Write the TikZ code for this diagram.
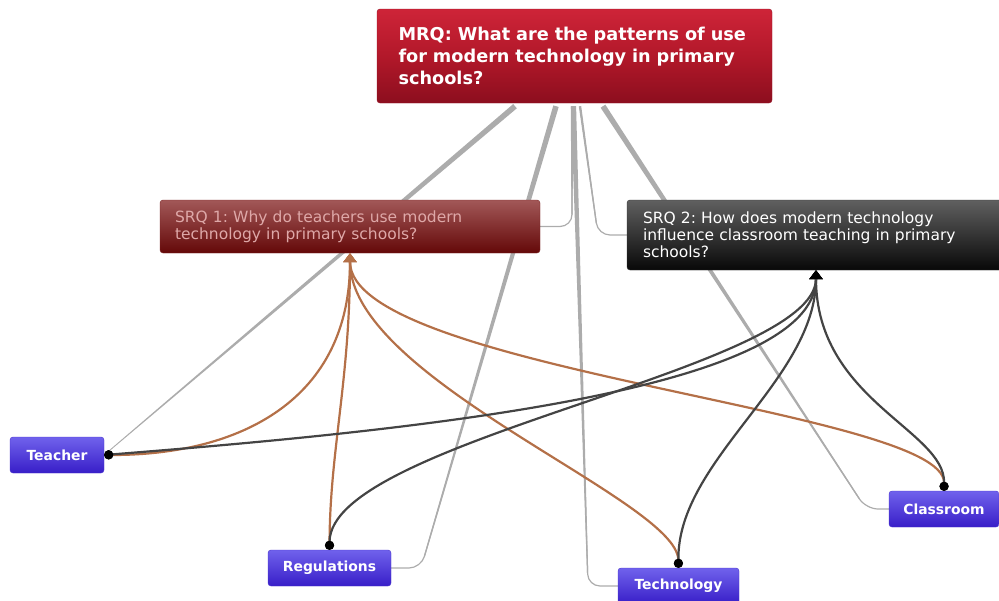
\documentclass[tikz,border=0pt]{standalone}
\usepackage{fontspec}
\setmainfont{DejaVu Sans}
\frenchspacing
\usetikzlibrary{arrows.meta,calc,positioning,backgrounds}

\definecolor{mrqtop}{RGB}{206,36,56}
\definecolor{mrqmid}{RGB}{178,24,42}
\definecolor{mrqbot}{RGB}{140,14,30}
\definecolor{mrqedge}{RGB}{150,20,38}
\definecolor{srqatop}{RGB}{162,88,88}
\definecolor{srqabot}{RGB}{100,8,8}
\definecolor{srqaedge}{RGB}{125,40,40}
\definecolor{srqatext}{RGB}{222,168,168}
\definecolor{srqbtop}{RGB}{96,96,96}
\definecolor{srqbbot}{RGB}{8,8,8}
\definecolor{leaftop}{RGB}{112,98,236}
\definecolor{leafbot}{RGB}{56,30,200}
\definecolor{leafedge}{RGB}{72,50,205}
\definecolor{linegray}{RGB}{172,172,172}
\definecolor{brownline}{RGB}{180,112,72}
\definecolor{darkline}{RGB}{68,68,68}

\tikzset{
  mrqbox/.style={draw=mrqedge, rounded corners=3pt, top color=mrqtop,
    bottom color=mrqbot, middle color=mrqmid, text=white,
    font=\bfseries\fontsize{17.7}{22}\selectfont, align=left,
    text width=352pt, inner xsep=21.5pt, minimum height=94pt},
  srqbox/.style={rounded corners=3pt, align=left, text width=350pt,
    inner xsep=15pt, font=\fontsize{15.5}{17}\selectfont},
  leafbox/.style={draw=leafedge, rounded corners=3pt, top color=leaftop,
    bottom color=leafbot, text=white, inner sep=0pt, minimum height=36pt,
    font=\bfseries\fontsize{13.9}{15}\selectfont},
  brownlink/.style={draw=brownline, line width=2.2pt,
    {Circle[length=9pt,color=black]}-{Triangle[length=9pt,width=13pt]}},
  darklink/.style={draw=darkline, line width=2.2pt,
    {Circle[length=9pt,color=black]}-{Triangle[length=9pt,width=13pt,color=black]}},
  graylink/.style={draw=linegray, line width=1.2pt, rounded corners=12pt}
}

\begin{document}
\begin{tikzpicture}[x=1pt,y=-1pt]
\useasboundingbox (0,0) rectangle (999,600);

% question boxes
\node[mrqbox] (mrq) at (574.5,56) {MRQ: What are the patterns of use\\for modern technology in primary\\schools?};
\node[srqbox, draw=srqaedge, top color=srqatop, bottom color=srqabot, text=srqatext,
  minimum width=380pt, minimum height=53pt] (srq1) at (350,226.5)
  {SRQ 1: Why do teachers use modern\\technology in primary schools?};
\node[srqbox, draw=black!80, top color=srqbtop, bottom color=srqbbot, text=white,
  minimum width=382pt, minimum height=70pt] (srq2) at (818,235)
  {SRQ 2: How does modern technology\\influence classroom teaching in primary\\schools?};

% topics
\node[leafbox, minimum width=94pt] (teacher) at (57,455) {Teacher};
\node[leafbox, minimum width=123pt] (regulations) at (329.5,568) {Regulations};
\node[leafbox, minimum width=121pt] (technology) at (678.5,586) {Technology};
\node[leafbox, minimum width=110pt] (classroom) at (944,509) {Classroom};

% gray links from the main question
\begin{scope}[on background layer]
  \coordinate (g1) at ([xshift=-59.5pt,yshift=-3pt]mrq.south);
  \coordinate (g2) at ([xshift=-18.5pt,yshift=-3pt]mrq.south);
  \coordinate (g3) at ([xshift=-1pt,yshift=-3pt]mrq.south);
  \coordinate (g4) at ([xshift=-2.5pt,yshift=-3pt]mrq.south);
  \coordinate (g5) at ([xshift=5.5pt,yshift=-3pt]mrq.south);
  \coordinate (g6) at ([xshift=28.5pt,yshift=-3pt]mrq.south);
  \coordinate (c2) at (421,568);
  \coordinate (c3) at (588,586);
  \coordinate (c4) at (srq1.east -| g4);
  \coordinate (c5) at (598,235);
  \coordinate (c6) at (866,509);
  \coordinate (e1) at (teacher.east);
  \coordinate (e2) at ($(c2)!12pt!(g2)$);
  \coordinate (e3) at ($(c3)!12pt!(g3)$);
  \coordinate (e4) at ($(c4)!12pt!(g4)$);
  \coordinate (e5) at ($(c5)!12pt!(g5)$);
  \coordinate (e6) at ($(c6)!12pt!(g6)$);
  \foreach \a/\b/\wa/\wb in {g1/e1/2.8/0.4, g2/e2/2.8/0.6, g3/e3/2.6/0.6,
      g4/e4/1.2/0.6, g5/e5/1.2/0.6, g6/e6/2.8/0.6}
    \fill[linegray] ($(\a)!\wa pt!90:(\b)$) -- ($(\a)!\wa pt!-90:(\b)$)
      -- ($(\b)!\wb pt!90:(\a)$) -- ($(\b)!\wb pt!-90:(\a)$) -- cycle;
  \draw[graylink] (g2) -- (c2) -- (regulations.east);
  \draw[graylink] (g3) -- (c3) -- (technology.west);
  \draw[graylink] (g4) -- (c4) -- (srq1.east);
  \draw[graylink] (g5) -- (c5) -- (srq2.west);
  \draw[graylink] (g6) -- (c6) -- (classroom.west);
\end{scope}

% links to SRQ 1
\draw[brownlink] (teacher.east) .. controls (240,455) and (350,400) .. (srq1.south);
\draw[brownlink] (regulations.north) .. controls (330,450) and (350,380) .. (srq1.south);
\draw[brownlink] (technology.north) .. controls (677,500) and (350,380) .. (srq1.south);
\draw[brownlink] (classroom.north) .. controls (945,410) and (350,370) .. (srq1.south);

% links to SRQ 2
\draw[darklink] (teacher.east) .. controls (420,430) and (816,390) .. ([xshift=-2pt]srq2.south);
\draw[darklink] (regulations.north) .. controls (330,440) and (816,370) .. ([xshift=-2pt]srq2.south);
\draw[darklink] (technology.north) .. controls (677,460) and (816,380) .. ([xshift=-2pt]srq2.south);
\draw[darklink] (classroom.north) .. controls (945,430) and (816,400) .. ([xshift=-2pt]srq2.south);
\end{tikzpicture}
\end{document}
